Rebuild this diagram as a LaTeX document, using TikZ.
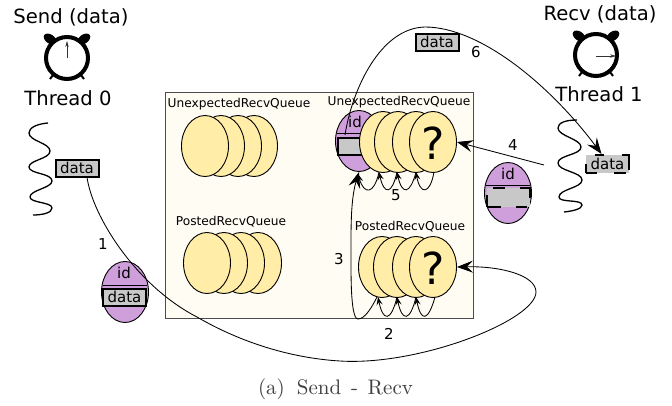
\documentclass[tikz,border=0pt]{standalone}
\usepackage{fontspec}
\setmainfont{DejaVu Sans}
\newfontfamily\capfont{Latin Modern Roman}
\usetikzlibrary{arrows.meta,shapes.geometric}
\definecolor{qyellow}{HTML}{FFEDA8}
\definecolor{qpurple}{HTML}{CF9FDB}
\definecolor{qgray}{HTML}{C8C8C8}
\definecolor{qback}{HTML}{FFFCF3}
\tikzset{
  x=1pt,y=-1pt,
  qell/.style={ellipse,draw=black,line width=.9pt,fill=qyellow,minimum width=47pt,minimum height=61pt,inner sep=0pt},
  pell/.style={ellipse,draw=black,line width=.9pt,fill=qpurple,minimum width=47pt,minimum height=61pt,inner sep=0pt},
  databox/.style={draw=black,line width=2pt,fill=qgray,font=\fontsize{15}{16}\selectfont,minimum width=43pt,minimum height=17pt,inner sep=0pt},
  dashbox/.style={draw=black,line width=2.2pt,fill=qgray,font=\fontsize{15}{16}\selectfont,inner sep=0pt},
  qlabel/.style={font=\fontsize{12.2}{13}\selectfont,inner sep=0pt},
  biglabel/.style={font=\fontsize{19.6}{21}\selectfont,inner sep=0pt},
  numlabel/.style={font=\fontsize{15}{16}\selectfont,inner sep=0pt},
  qmark/.style={font=\fontsize{44}{46}\selectfont,inner sep=0pt},
  idlabel/.style={font=\fontsize{15}{16}\selectfont,inner sep=0pt},
  conn/.style={draw=black,line width=.85pt},
  bigarrow/.style={conn,-{Stealth[length=16pt,width=12pt,inset=6pt]}},
  tinyarrow/.style={conn,-{Stealth[length=8pt,width=6pt,inset=3pt]}},
  wave/.style={draw=black,line width=1.3pt},
  hand/.style={draw=black!80,line width=.7pt,-{Stealth[length=6pt,width=3.5pt]}},
}
\begin{document}
\begin{tikzpicture}
\useasboundingbox (0,0) rectangle (672,405);
\fill[white] (0,0) rectangle (672,405);
% queue box
\node[draw=black!70,line width=.9pt,fill=qback,minimum width=308pt,minimum height=226pt,inner sep=0pt] (box) at (319,205) {};
% top-left
\node[qell] (a4) at (254,146) {};
\node[qell] (a3) at (238,146) {};
\node[qell] (a2) at (221,146) {};
\node[qell] (a1) at (205,146) {};
\node[qlabel] (alab) at (239,104) {UnexpectedRecvQueue};
% bottom-left
\node[qell] (b4) at (258,263) {};
\node[qell] (b3) at (241,263) {};
\node[qell] (b2) at (224,263) {};
\node[qell] (b1) at (207,263) {};
\node[qlabel] (blab) at (231,222) {PostedRecvQueue};
% top-right
\node[pell] (cp) at (359,141) {};
\draw[black,line width=1pt] (337,133) -- (380,133);
\node[idlabel] (cid) at (355,122) {id};
\node[databox,minimum width=34pt,anchor=west] (cd) at (336.5,146) {};
\node[qell] (c1) at (383,142) {};
\node[qell] (c2) at (398,142) {};
\node[qell] (c3) at (416,142) {};
\node[qell] (c4) at (433,142) {};
\node[qmark] (cq) at (433,143) {?};
\node[qlabel] (clab) at (399,102) {UnexpectedRecvQueue};
% bottom-right
\node[qell] (d1) at (382,267) {};
\node[qell] (d2) at (397,267) {};
\node[qell] (d3) at (416,267) {};
\node[qell] (d4) at (433,267) {};
\node[qmark] (dq) at (433,268) {?};
\node[qlabel] (dlab) at (410,227) {PostedRecvQueue};
% loops top
\draw[tinyarrow] (434,172) .. controls (430,195) and (420,195) .. (416,172);
\draw[tinyarrow] (416,172) .. controls (410,195) and (402,195) .. (397,172);
\draw[tinyarrow] (397,172) .. controls (392,195) and (384,195) .. (379,172);
\draw[tinyarrow] (379,172) .. controls (374,195) and (364,195) .. (358,174);
% loops bottom
\draw[tinyarrow] (435,297) .. controls (428,322) and (421,322) .. (416,297);
\draw[tinyarrow] (416,297) .. controls (410,322) and (402,322) .. (397,297);
\draw[tinyarrow] (397,297) .. controls (391,322) and (383,322) .. (378,297);
% threads
\draw[wave] (48,123) .. controls (36,124) and (29,128) .. (29,133) .. controls (29,141) and (50,143) .. (50,151) .. controls (50,159) and (29,160) .. (29,167) .. controls (29,174) and (52,173) .. (52,181) .. controls (52,188) and (30,190) .. (30,197) .. controls (30,203) and (52,202) .. (52,208) .. controls (52,213) and (42,215) .. (33,215);
\draw[wave] (577,120) .. controls (565,120) and (558,123) .. (558,128) .. controls (558,136) and (581,139) .. (581,147) .. controls (581,155) and (558,155) .. (558,163) .. controls (558,171) and (582,172) .. (582,180) .. controls (582,188) and (559,189) .. (559,197) .. controls (559,203) and (582,199) .. (582,205) .. controls (582,209) and (573,211) .. (564,212);
% data boxes
\node[databox] (sdata) at (77,168) {data};
\node[databox] (tdata) at (437,42) {data};
\node[dashbox,minimum width=43pt,minimum height=18pt,dash pattern=on 11pt off 17pt on 12pt off 6pt on 22pt off 18pt on 9pt off 18pt on 9pt off 0pt] (rdata) at (607.5,164) {data};
% floating envelope 1
\node[pell] (e1) at (125,292) {};
\draw[black,line width=1pt] (103,285) -- (147,285);
\node[idlabel] (e1id) at (124,273) {id};
\node[databox] (e1d) at (124.5,297) {data};
% floating envelope 2
\node[pell] (e2) at (508,193) {};
\draw[black,line width=1pt] (486,185) -- (530,185);
\node[idlabel] (e2id) at (508,174) {id};
\node[dashbox,minimum width=43pt,minimum height=19pt,dash pattern=on 14pt off 15pt on 11pt off 12pt on 20pt off 15pt on 12pt off 13pt on 12pt off 0pt] (e2d) at (508.5,197.5) {};
% clocks
\foreach \n/\cx/\cy in {l/67/58,r/596/55}{
  \fill[black,rotate around={-35:(\cx-17,\cy-19)}] (\cx-17,\cy-19) ellipse[x radius=7pt,y radius=4.5pt];
  \fill[black,rotate around={35:(\cx+17,\cy-19)}] (\cx+17,\cy-19) ellipse[x radius=7pt,y radius=4.5pt];
  \draw[black,line width=2pt] (\cx-14,\cy+17) -- (\cx-17,\cy+21);
  \draw[black,line width=2pt] (\cx+14,\cy+17) -- (\cx+17,\cy+21);
  \node[circle,draw=black,fill=white,line width=4pt,minimum size=42pt,inner sep=0pt] (clock\n) at (\cx,\cy) {};
}
\coordinate (lhs) at (67,58); \coordinate (lht) at (67,41);
\coordinate (rhs) at (596,56); \coordinate (rht) at (616,56);
\draw[hand] (lhs) -- (lht);
\draw[hand] (rhs) -- (rht);
\node[biglabel] (t1) at (71,17) {Send (data)};
\node[biglabel] (t2) at (600,14) {Recv (data)};
\node[biglabel] (t3) at (68,98) {Thread 0};
\node[biglabel] (t4) at (599,94) {Thread 1};
% connectors
\coordinate (s1) at (87,177);
\draw[bigarrow] (s1)
   .. controls (92,215) and (135,285) .. (197,317)
   .. controls (240,342) and (290,358) .. (340,361)
   .. controls (420,366) and (536,320) .. (536,292)
   .. controls (536,275) and (500,266) .. (d4.east);
\coordinate (m3) at (377,297);
\draw[bigarrow] (m3) .. controls (372,307) and (365,319) .. (358,319)
   .. controls (350,319) and (351,270) .. (351,240)
   .. controls (351,215) and (352,195) .. (cp.south);
\draw[bigarrow] (544,165) -- (c4.east);
\coordinate (m6) at (345,135);
\draw[bigarrow] (m6) .. controls (352,90) and (380,28) .. (425,27)
   .. controls (480,27) and (550,85) .. ([xshift=-6pt]rdata.north);
% numbers
\node[numlabel] (n1) at (103,244) {1};
\node[numlabel] (n2) at (389,334) {2};
\node[numlabel] (n3) at (339,259) {3};
\node[numlabel] (n4) at (513,145) {4};
\node[numlabel] (n5) at (396,195) {5};
\node[numlabel] (n6) at (476,52) {6};
\node[font=\capfont\fontsize{10}{12}\selectfont,text=black!75,inner sep=0pt,scale=2.1] (cap) at (335.5,389) {(a)\hspace{.24em} Send\hspace{.13em} - \hspace{.13em}Recv};
\end{tikzpicture}
\end{document}
